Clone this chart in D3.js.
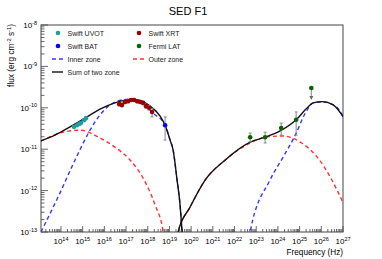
<!DOCTYPE html>
<html>
<head>
<meta charset="utf-8">
<script src="https://cdn.jsdelivr.net/npm/d3@7"></script>
<style>
  body { margin: 0; background: #fff; }
  svg { font-family: "Liberation Sans", Arial, sans-serif; }
</style>
</head>
<body>
<div id="container"></div>
<script>
const width = 382,
  height = 259,
  margin = { top: 25, right: 39, bottom: 27, left: 41 }

/* DATA (log10 nu [Hz], log10 flux [erg cm-2 s-1]) */
const xExps = [14, 15, 16, 17, 18, 19, 20, 21, 22, 23, 24, 25, 26, 27]
const yExps = [-13, -12, -11, -10, -9, -8]

// model curves
const innerSync = [[13.08, -13.0], [13.95, -12.06], [14.65, -11.26], [15.34, -10.54], [15.80, -10.17],
  [16.26, -9.93], [16.82, -9.81], [17.32, -9.79], [17.78, -9.88], [18.25, -10.13], [18.80, -10.42],
  [19.03, -10.78], [19.17, -11.02], [19.35, -11.74], [19.49, -12.35], [19.58, -13.0], [19.62, -13.4]]
const innerIC = [[22.65, -13.3], [22.72, -13.0], [23.64, -11.74], [24.24, -11.19], [24.80, -10.66],
  [25.26, -10.13], [25.63, -9.88], [26.09, -9.86], [26.74, -10.00], [27.01, -10.22]]
const outerSync = [[13.08, -10.80], [13.95, -10.61], [14.88, -10.54], [15.80, -10.73], [16.49, -10.95],
  [17.18, -11.26], [17.88, -11.79], [18.34, -12.35], [18.71, -13.0], [18.78, -13.3]]
const outerIC = [[19.33, -13.3], [19.40, -13.0], [19.95, -12.40], [20.65, -11.74], [21.57, -11.26],
  [22.72, -10.85], [23.41, -10.71], [24.24, -10.68], [25.03, -10.83], [25.81, -11.19],
  [26.41, -11.67], [27.01, -12.30]]
const sumSync = [[13.08, -10.80], [13.72, -10.66], [14.42, -10.46], [15.11, -10.25], [15.80, -10.03],
  [16.49, -9.88], [17.32, -9.79], [18.11, -9.96], [18.57, -10.20], [18.80, -10.42], [19.03, -10.78],
  [19.17, -11.02], [19.35, -11.74], [19.49, -12.35], [19.58, -13.0], [19.62, -13.4]]
const sumIC = [[19.33, -13.3], [19.40, -13.0], [19.95, -12.40], [20.65, -11.74], [21.57, -11.26],
  [22.72, -10.83], [23.41, -10.71], [24.10, -10.56], [24.84, -10.29], [25.26, -10.05], [25.63, -9.88],
  [26.04, -9.85], [26.55, -9.93], [27.01, -10.22]]

// observations
const uvot = [[14.60, -10.46], [14.74, -10.42], [14.83, -10.39], [14.92, -10.37], [15.06, -10.30], [15.15, -10.25]]
// [logNu, logF, logF low, logF high]
const xrt = [[16.68, -9.91, -9.96, -9.87], [16.81, -9.93, -9.98, -9.89], [16.95, -9.86, -9.90, -9.82],
  [17.09, -9.84, -9.88, -9.80], [17.23, -9.81, -9.85, -9.78], [17.37, -9.81, -9.85, -9.78],
  [17.51, -9.84, -9.88, -9.80], [17.65, -9.86, -9.90, -9.82], [17.78, -9.88, -9.93, -9.84],
  [17.92, -9.96, -10.01, -9.91], [18.06, -10.00, -10.06, -9.95], [18.20, -10.10, -10.22, -10.02]]
const bat = [[18.80, -10.42, -10.78, -10.22]]
const fermi = [[22.72, -10.71, -10.82, -10.61], [23.41, -10.71, -10.85, -10.59],
  [24.15, -10.49, -10.66, -10.37], [24.84, -10.29, -10.66, -10.10]]
const fermiUL = [[25.54, -9.52]]

const svg = d3.select("#container")
  .append("svg")
  .attr("width", width)
  .attr("height", height)

const xScale = d3.scaleLog()
  .domain([1.2e13, 1e27])
  .range([margin.left, width - margin.right])

const yScale = d3.scaleLog()
  .domain([1e-13, 1e-8])
  .range([height - margin.bottom, margin.top])

const X = l => xScale(Math.pow(10, l))
const Y = l => yScale(Math.pow(10, l))

svg.append("clipPath").attr("id", "plot")
  .append("rect")
  .attr("x", margin.left).attr("y", margin.top)
  .attr("width", width - margin.left - margin.right)
  .attr("height", height - margin.top - margin.bottom)

// TITLE
svg.append("text")
  .attr("x", 188).attr("y", 15)
  .attr("text-anchor", "middle")
  .attr("font-size", 11)
  .text("SED F1")

// FRAME
svg.append("rect")
  .attr("x", margin.left).attr("y", margin.top)
  .attr("width", width - margin.left - margin.right)
  .attr("height", height - margin.top - margin.bottom)
  .attr("fill", "none")
  .attr("stroke", "#444")
  .attr("stroke-width", 1)

// TICKS (inward, ROOT style)
const axisG = svg.append("g").attr("stroke", "#444").attr("stroke-width", 0.8)
const y0 = height - margin.bottom
const x0 = margin.left

const xMajors = [13, ...xExps]
xMajors.forEach(e => {
  for (let m = 1; m < 10; m++) {
    const v = m * Math.pow(10, e)
    if (v < xScale.domain()[0] || v > xScale.domain()[1]) continue
    const len = m === 1 ? 6 : 3
    axisG.append("line")
      .attr("x1", xScale(v)).attr("x2", xScale(v))
      .attr("y1", y0).attr("y2", y0 - len)
  }
})
yExps.forEach(e => {
  for (let m = 1; m < 10; m++) {
    const v = m * Math.pow(10, e)
    if (v > yScale.domain()[1] * 1.0001) continue
    const len = m === 1 ? 7 : 3.5
    axisG.append("line")
      .attr("x1", x0).attr("x2", x0 + len)
      .attr("y1", yScale(v)).attr("y2", yScale(v))
  }
})

// TICK LABELS
xExps.forEach(e => {
  const t = svg.append("text")
    .attr("x", xScale(Math.pow(10, e)))
    .attr("y", 244)
    .attr("text-anchor", "middle")
    .attr("font-size", 8)
  t.append("tspan").text("10")
  t.append("tspan").attr("dy", -3.5).attr("font-size", 5.5).text(e)
})
yExps.forEach(e => {
  const t = svg.append("text")
    .attr("x", x0 - 4)
    .attr("y", yScale(Math.pow(10, e)) + 3)
    .attr("text-anchor", "end")
    .attr("font-size", 8)
  t.append("tspan").text("10")
  t.append("tspan").attr("dy", -3.5).attr("font-size", 5.5).text(e)
})

// AXIS TITLES
svg.append("text")
  .attr("x", width - margin.right)
  .attr("y", 255)
  .attr("text-anchor", "end")
  .attr("font-size", 8.2)
  .text("Frequency (Hz)")

const yl = svg.append("text")
  .attr("transform", `translate(14,${margin.top - 1}) rotate(-90)`)
  .attr("text-anchor", "end")
  .attr("font-size", 8.3)
yl.append("tspan").text("flux (erg cm")
yl.append("tspan").attr("dy", -3).attr("font-size", 5.8).text("-2")
yl.append("tspan").attr("dy", 3).text(" s")
yl.append("tspan").attr("dy", -3).attr("font-size", 5.8).text("-1")
yl.append("tspan").attr("dy", 3).text(")")

// LINES
const lineGen = d3.line()
  .curve(d3.curveMonotoneX)
  .x(d => X(d[0]))
  .y(d => Y(d[1]))

const plot = svg.append("g").attr("clip-path", "url(#plot)")

const dashed = [
  { data: outerSync, color: "#ff3030" },
  { data: outerIC, color: "#ff3030" },
  { data: innerSync, color: "#3535ff" },
  { data: innerIC, color: "#3535ff" }
]
dashed.forEach(s => {
  plot.append("path")
    .datum(s.data)
    .attr("fill", "none")
    .attr("stroke", s.color)
    .attr("stroke-width", 1.4)
    .attr("stroke-dasharray", "4,3")
    .attr("d", lineGen)
})
;[sumSync, sumIC].forEach(d => {
  plot.append("path")
    .datum(d)
    .attr("fill", "none")
    .attr("stroke", "#111")
    .attr("stroke-width", 1.4)
    .attr("d", lineGen)
})

// ERROR BARS
function errorBars(data) {
  const g = plot.append("g").attr("stroke", "#888").attr("stroke-width", 1)
  data.forEach(d => {
    g.append("line")
      .attr("x1", X(d[0])).attr("x2", X(d[0]))
      .attr("y1", Y(d[2])).attr("y2", Y(d[3]))
    ;[d[2], d[3]].forEach(v => {
      g.append("line")
        .attr("x1", X(d[0]) - 1.5).attr("x2", X(d[0]) + 1.5)
        .attr("y1", Y(v)).attr("y2", Y(v))
    })
  })
}
errorBars(xrt)
errorBars(bat)
errorBars(fermi)

// upper limit arrow
fermiUL.forEach(d => {
  const cx = X(d[0]), cy = Y(d[1])
  plot.append("line")
    .attr("x1", cx).attr("x2", cx)
    .attr("y1", cy).attr("y2", cy + 9)
    .attr("stroke", "#888").attr("stroke-width", 1)
  plot.append("path")
    .attr("d", `M${cx - 2},${cy + 8} L${cx + 2},${cy + 8} L${cx},${cy + 12} Z`)
    .attr("fill", "#666")
})

// POINTS
function points(data, color) {
  plot.append("g")
    .selectAll("circle")
    .data(data)
    .join("circle")
    .attr("cx", d => X(d[0]))
    .attr("cy", d => Y(d[1]))
    .attr("r", 2.3)
    .attr("fill", color)
}
points(uvot, "#1e9e9e")
points(xrt, "#9c0000")
points(bat, "#0000ff")
points(fermi, "#006600")
points(fermiUL, "#006600")

// LEGEND
const legend = svg.append("g").attr("font-size", 7)
const legendItems = [
  { label: "Swift UVOT", type: "dot", color: "#1e9e9e", x: 58, y: 33 },
  { label: "Swift XRT", type: "dot", color: "#9c0000", x: 139, y: 33 },
  { label: "Swift BAT", type: "dot", color: "#0000ff", x: 58, y: 46 },
  { label: "Fermi LAT", type: "dot", color: "#006600", x: 139, y: 46 },
  { label: "Inner zone", type: "dash", color: "#3535ff", x: 58, y: 59 },
  { label: "Outer zone", type: "dash", color: "#ff3030", x: 139, y: 59 },
  { label: "Sum of two zone", type: "line", color: "#111", x: 58, y: 72 }
]
legendItems.forEach(d => {
  if (d.type === "dot") {
    legend.append("circle")
      .attr("cx", d.x).attr("cy", d.y).attr("r", 2.3).attr("fill", d.color)
  } else {
    legend.append("line")
      .attr("x1", d.x - 6).attr("x2", d.x + 5)
      .attr("y1", d.y).attr("y2", d.y)
      .attr("stroke", d.color)
      .attr("stroke-width", 1.4)
      .attr("stroke-dasharray", d.type === "dash" ? "4,3" : null)
  }
  legend.append("text")
    .attr("x", d.x + 9.5).attr("y", d.y + 2.5)
    .attr("fill", "#222")
    .text(d.label)
})
</script>
</body>
</html>
